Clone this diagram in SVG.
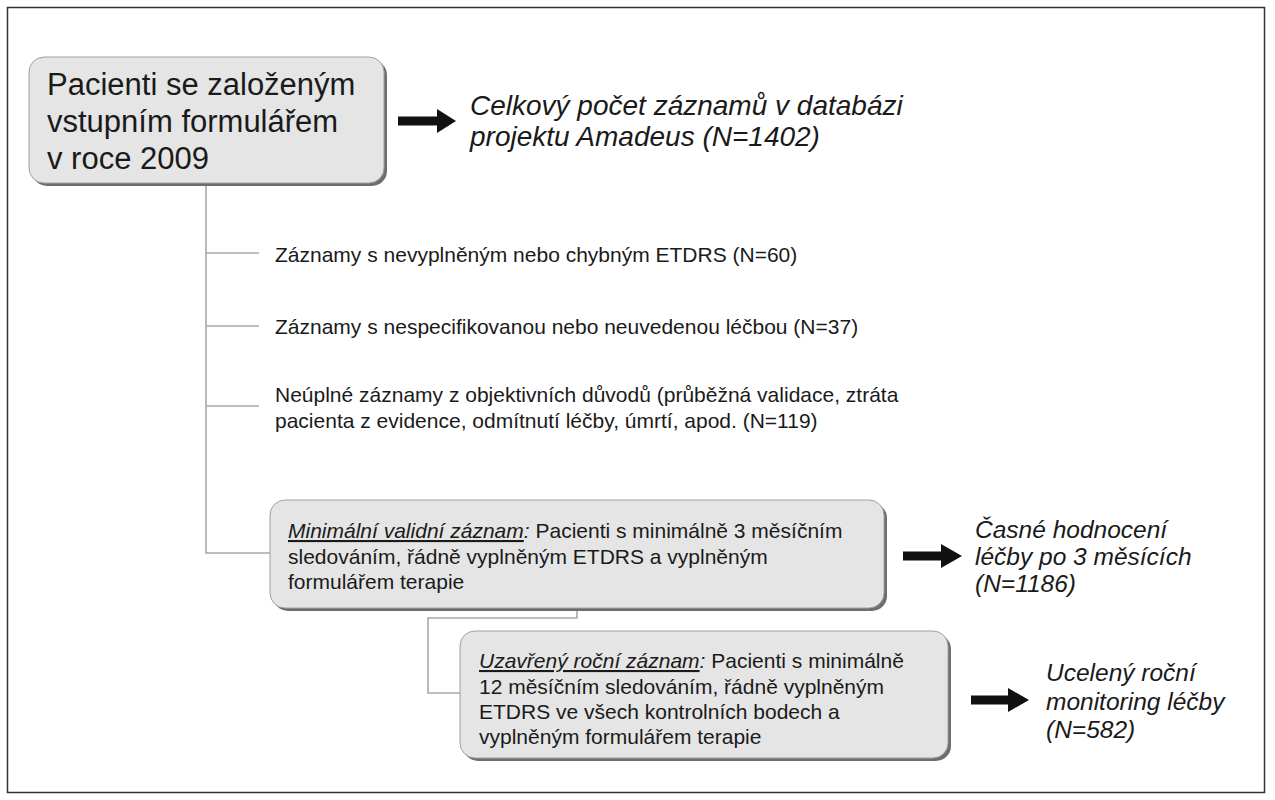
<svg xmlns="http://www.w3.org/2000/svg" width="1275" height="800" viewBox="0 0 1275 800">
<style>
.box{fill:#e5e5e5;stroke:#a0a0a0;stroke-width:1}
.shadow{fill:#6e6e6e}
.conn{fill:none;stroke:#a8a8a8;stroke-width:1.6}
.t{font-family:"Liberation Sans",Arial,sans-serif;fill:#1a1a1a}
.big{font-size:31px}
.sm{font-size:21px}
.it{font-style:italic}
.r1{font-size:28px}
.r2{font-size:24.5px}
.arr{fill:#111}
</style>
<rect x="0" y="0" width="1275" height="800" fill="#ffffff"/>
<rect x="7.5" y="7.5" width="1257" height="785" fill="none" stroke="#333" stroke-width="1.5"/>

<g id="connectors">
<path class="conn" d="M206,183 V553 H270"/>
<path class="conn" d="M206,253 H259"/>
<path class="conn" d="M206,326 H259"/>
<path class="conn" d="M206,406 H259"/>
<path class="conn" d="M577,608 V618 H428 V693 H460"/>
<path class="arr" d="M398,116.5 H437 V109 L456,121 L437,133 V125.5 H398 Z"/>
<path class="arr" d="M903,551.5 H941 V544 L962,556 L941,568 V560.5 H903 Z"/>
<path class="arr" d="M971,695.5 H1008 V688 L1029,700 L1008,712 V704.5 H971 Z"/>
</g>

<g id="start">
<rect class="shadow" x="32" y="60" width="355" height="126" rx="15"/>
<rect class="box" x="29" y="57" width="355" height="126" rx="15"/>
<text class="t big" x="47" y="95">Pacienti se založeným</text>
<text class="t big" x="47" y="132">vstupním formulářem</text>
<text class="t big" x="47" y="169">v roce 2009</text>
</g>

<g id="total">
<text class="t it r1" x="470" y="115">Celkový počet záznamů v databázi</text>
<text class="t it r1" x="470" y="146">projektu Amadeus (N=1402)</text>
</g>

<g id="excl1">
<text class="t sm" x="275" y="262">Záznamy s nevyplněným nebo chybným ETDRS (N=60)</text>
</g>
<g id="excl2">
<text class="t sm" x="275" y="334">Záznamy s nespecifikovanou nebo neuvedenou léčbou (N=37)</text>
</g>
<g id="excl3">
<text class="t sm" x="275" y="402">Neúplné záznamy z objektivních důvodů (průběžná validace, ztráta</text>
<text class="t sm" x="275" y="428">pacienta z evidence, odmítnutí léčby, úmrtí, apod. (N=119)</text>
</g>

<g id="minimal">
<rect class="shadow" x="273" y="503" width="614" height="108" rx="15"/>
<rect class="box" x="270" y="500" width="614" height="108" rx="15"/>
<text class="t sm" x="288" y="538"><tspan class="it" text-decoration="underline">Minimální validní záznam</tspan><tspan class="it">:</tspan> Pacienti s minimálně 3 měsíčním</text>
<text class="t sm" x="288" y="564">sledováním, řádně vyplněným ETDRS a vyplněným</text>
<text class="t sm" x="288" y="589">formulářem terapie</text>
</g>

<g id="early">
<text class="t it r2" x="975" y="538">Časné hodnocení</text>
<text class="t it r2" x="975" y="565">léčby po 3 měsících</text>
<text class="t it r2" x="975" y="592">(N=1186)</text>
</g>

<g id="closed">
<rect class="shadow" x="463" y="634" width="488" height="127" rx="15"/>
<rect class="box" x="460" y="631" width="488" height="127" rx="15"/>
<text class="t sm" x="479" y="668"><tspan class="it" text-decoration="underline">Uzavřený roční záznam</tspan><tspan class="it">:</tspan> Pacienti s minimálně</text>
<text class="t sm" x="479" y="694">12 měsíčním sledováním, řádně vyplněným</text>
<text class="t sm" x="479" y="719">ETDRS ve všech kontrolních bodech a</text>
<text class="t sm" x="479" y="744">vyplněným formulářem terapie</text>
</g>

<g id="annual">
<text class="t it r2" x="1046" y="681">Ucelený roční</text>
<text class="t it r2" x="1046" y="710">monitoring léčby</text>
<text class="t it r2" x="1046" y="738">(N=582)</text>
</g>
</svg>
